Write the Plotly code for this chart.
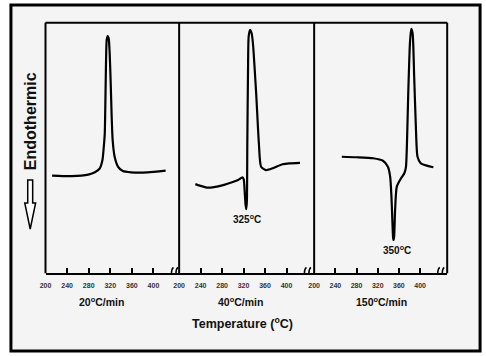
import plotly.graph_objects as go

W, H = 486, 356

# ---------------- data ----------------
tick_vals = [200, 240, 280, 320, 360, 400]
tick_text = ["200", "240", "280", "320", "360", "400"]
rate_labels = ["20<sup>o</sup>C/min", "40<sup>o</sup>C/min", "150<sup>o</sup>C/min"]

# 20 C/min trace (temperature, signal)
t20 = [212.2, 248.8, 279.3, 291.5, 300.6, 305.5, 308.0, 309.8, 311.0, 312.2, 313.4,
       315.3, 317.1, 318.9, 320.8, 322.6, 324.4, 328.1, 334.2, 343.3, 358.6, 389.1, 422.6]
s20 = [39.0, 38.8, 39.4, 40.3, 41.9, 45.2, 50.5, 55.9, 69.2, 85.1, 93.1,
       94.7, 93.8, 87.8, 75.8, 62.5, 53.2, 46.5, 42.6, 40.8, 40.3, 40.3, 41.0]

# 40 C/min trace
t40 = [230.2, 240.0, 251.5, 265.0, 282.2, 300.0, 309.8, 317.8, 320.3, 322.3, 323.7,
       325.0, 326.2, 327.0, 328.2, 329.5, 331.9, 335.0, 337.4, 343.5, 348.5, 352.7,
       361.9, 374.2, 392.6, 405.0, 425.2]
s40 = [35.6, 34.9, 34.2, 34.4, 35.2, 36.4, 37.2, 38.3, 37.5, 32.0, 27.5,
       25.6, 29.0, 52.0, 78.4, 94.4, 97.1, 95.8, 91.9, 71.8, 52.0, 42.5,
       41.2, 41.9, 43.5, 43.9, 44.1]

# 150 C/min trace
t150 = [252.2, 280.1, 311.3, 329.9, 339.2, 343.5, 345.9, 347.8, 349.1, 350.0, 351.0,
        352.8, 356.0, 364.0, 370.2, 373.3, 375.2, 377.6, 380.8, 383.2, 385.8, 388.8,
        392.0, 395.1, 401.3, 425.0]
s150 = [46.5, 46.3, 45.9, 44.9, 42.5, 38.5, 30.6, 20.0, 14.0, 13.3, 14.6,
        25.3, 34.6, 37.9, 39.9, 42.5, 51.9, 71.8, 91.8, 97.5, 95.8, 78.5,
        58.5, 46.5, 43.9, 42.3]

peak_labels = ["325<sup>o</sup>C", "350<sup>o</sup>C"]
peak_temps = [325, 350]
peak_vals = [25.6, 13.3]

# ---------------- layout helpers ----------------
def px(x):
    return x / W

def py(y):
    return 1 - y / H

FONT = "Arial, Liberation Sans, Helvetica, sans-serif"

panel_edges = [40, 175.3, 312, 446.7]
top_px, bot_px = 22.7, 273.3
x_ranges = [[200, 447.6], [200, 451.5], [200, 451.1]]

fig = go.Figure()

series = [(t20, s20, "x", "y"), (t40, s40, "x2", "y"), (t150, s150, "x3", "y")]
for t, s, xa, ya in series:
    fig.add_trace(go.Scatter(x=t, y=s, xaxis=xa, yaxis=ya, mode="lines",
                             line=dict(color="black", width=2.2, shape="spline", smoothing=0.6),
                             hoverinfo="skip", showlegend=False))

axis_common = dict(
    showline=True, linecolor="black", linewidth=2,
    ticks="inside", ticklen=5, tickwidth=1.5, tickcolor="black",
    tickvals=tick_vals, ticktext=tick_text, ticklabelstandoff=4,
    tickfont=dict(family=FONT, size=7, color="#333333", weight="bold"),
    showgrid=False, zeroline=False, fixedrange=True, anchor="y",
)

layout = dict(
    width=W, height=H, margin=dict(l=0, r=0, t=0, b=0),
    paper_bgcolor="white", plot_bgcolor="rgba(0,0,0,0)",
    showlegend=False,
    yaxis=dict(domain=[py(bot_px), py(top_px)], range=[0, 100], visible=False,
               anchor="x", fixedrange=True),
)
for i in range(3):
    key = "xaxis" if i == 0 else f"xaxis{i+1}"
    layout[key] = dict(axis_common, domain=[px(panel_edges[i]), px(panel_edges[i + 1])],
                       range=x_ranges[i])
fig.update_layout(**layout)

shapes = []
# outer framed background
shapes.append(dict(type="rect", xref="paper", yref="paper", layer="below",
                   x0=px(5), x1=px(480), y0=py(351), y1=py(5),
                   fillcolor="#f4f4f4", line=dict(color="black", width=3)))
# panel frames
shapes.append(dict(type="line", xref="paper", yref="paper",
                   x0=px(panel_edges[0]), x1=px(panel_edges[-1]), y0=py(top_px), y1=py(top_px),
                   line=dict(color="black", width=2)))
for e in panel_edges:
    shapes.append(dict(type="line", xref="paper", yref="paper",
                       x0=px(e), x1=px(e), y0=py(top_px), y1=py(bot_px),
                       line=dict(color="black", width=2)))
# axis break marks
for xa in ["x", "x2", "x3"]:
    for off in (-2.5, 2.0):
        shapes.append(dict(type="path", xref=xa, yref="y", xsizemode="pixel", ysizemode="pixel",
                           xanchor=438, yanchor=0,
                           path=f"M {off-2},-6 C {off+2},-3 {off-2},3 {off+2},6",
                           line=dict(color="black", width=1.5)))
# hollow arrow under "Endothermic"
cx = 24.5
arrow = [(cx - 2.5, 180), (cx + 2.5, 180), (cx + 2.5, 203), (cx + 5.5, 203), (cx, 229),
         (cx - 5.5, 203), (cx - 2.5, 203)]
path = "M " + " L ".join(f"{px(a)},{py(b)}" for a, b in arrow) + " Z"
shapes.append(dict(type="path", xref="paper", yref="paper", path=path,
                   fillcolor="white", line=dict(color="black", width=1.5)))
fig.update_layout(shapes=shapes)

ann = []
label_x = [96.7, 237, 380]
for lab, lx in zip(rate_labels, label_x):
    ann.append(dict(text=lab, x=px(lx), y=py(301.7), xref="paper", yref="paper",
                    showarrow=False, xanchor="center", yanchor="middle",
                    font=dict(family=FONT, size=10.5, color="#111111", weight="bold")))
ann.append(dict(text="Temperature (<sup>o</sup>C)", x=px(239.2), y=py(322.7), xref="paper",
                yref="paper", showarrow=False, xanchor="center", yanchor="middle",
                font=dict(family=FONT, size=12.5, color="#111111", weight="bold")))
ann.append(dict(text="Endothermic", x=px(24.5), y=py(121), xref="paper", yref="paper",
                showarrow=False, textangle=-90, xanchor="center", yanchor="middle",
                font=dict(family=FONT, size=16, color="#111111", weight="bold")))
for lab, xa, t, v, xs in zip(peak_labels, ["x2", "x3"], peak_temps, peak_vals, [1, 3]):
    ann.append(dict(text=lab, x=t, y=v, xref=xa, yref="y", showarrow=False,
                    xanchor="center", yanchor="top", yshift=-2, xshift=xs,
                    font=dict(family=FONT, size=10, color="#111111", weight="bold")))
fig.update_layout(annotations=ann)

fig.write_html("out.html", config={"displayModeBar": False},
               post_script="document.body.style.margin='0';")
